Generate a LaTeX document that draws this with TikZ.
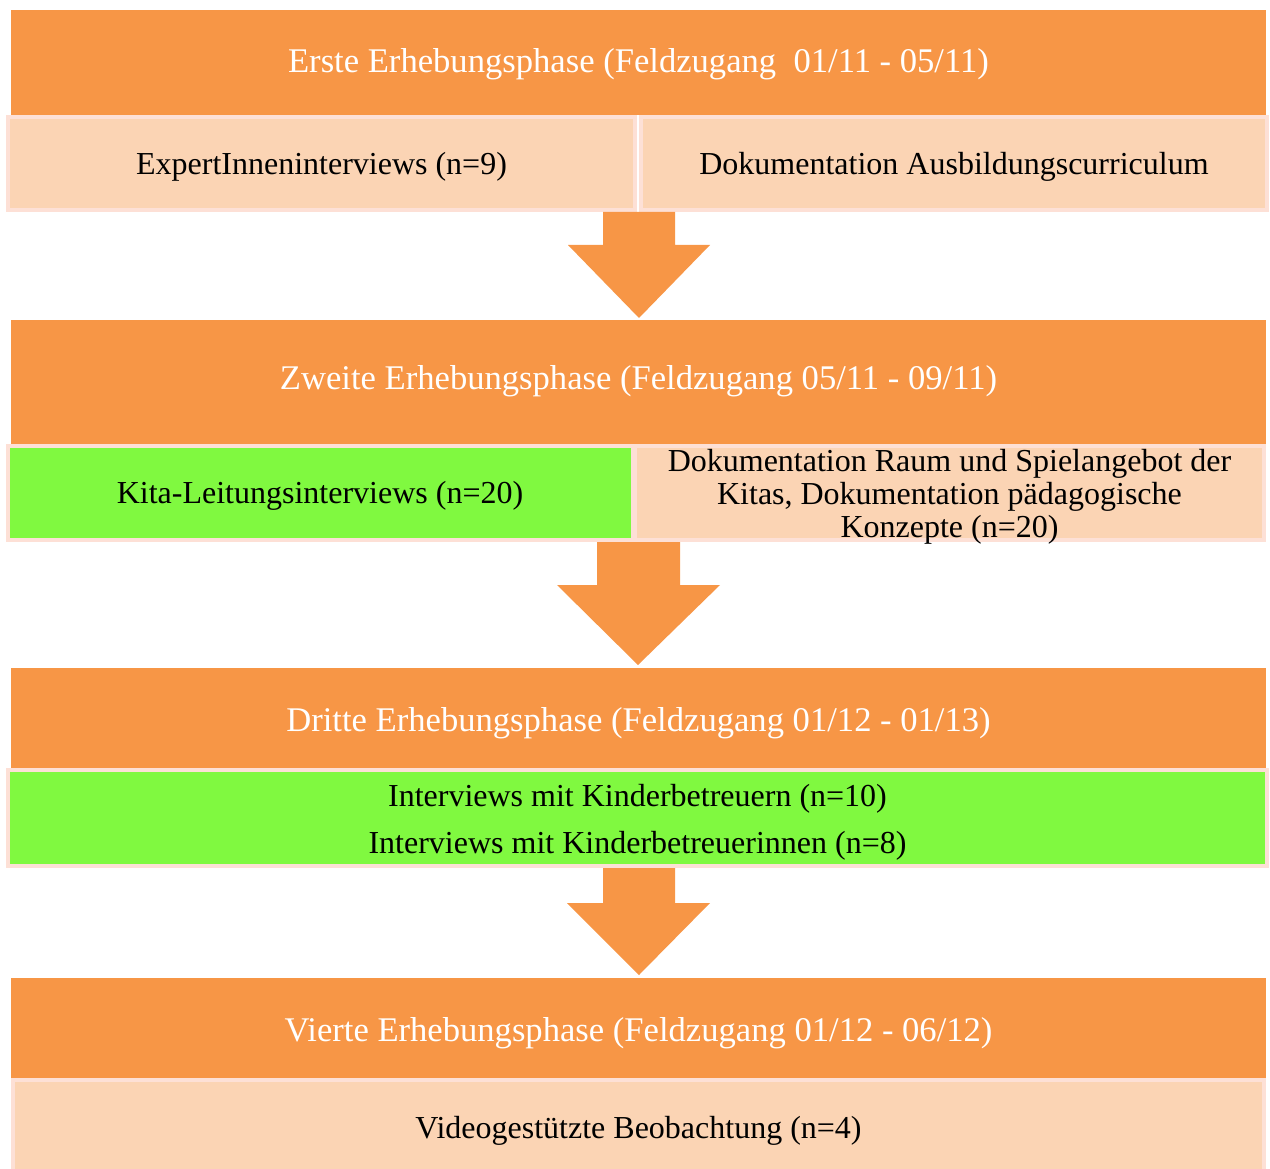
\documentclass[tikz,border=0pt]{standalone}
\usepackage{fontspec}
\setmainfont{Liberation Serif}
\definecolor{hdr}{HTML}{F79646}
\definecolor{lite}{HTML}{FBD4B4}
\definecolor{edge}{HTML}{FDE0D6}
\definecolor{grn}{HTML}{80F940}
\begin{document}
\begin{tikzpicture}[x=1pt,y=-1pt,
  every node/.style={inner sep=0pt,outer sep=0pt},
  body/.style={font=\fontsize{32}{33}\selectfont,align=center},
  hdrtext/.style={font=\fontsize{34.6}{36}\selectfont,text=white},
  header/.style={fill=hdr,minimum width=1255pt},
  cell/.style={fill=lite,draw=edge,line width=4pt},
  gcell/.style={fill=grn,draw=edge,line width=4pt},
  blockarrow/.style={fill=hdr}]
\useasboundingbox (0,0) rectangle (1270,1169);
\clip (0,0) rectangle (1270,1169);
% phase 1
\node[header,minimum height=105pt] (h1) at (638.5,62.5) {};
\node[hdrtext] (t1) at ([yshift=-2pt]h1.center) {Erste Erhebungsphase (Feldzugang~~01/11 - 05/11)};
\node[cell,minimum width=627pt,minimum height=93pt] (a1) at (321.5,163.5) {};
\node[body] (ta1) at ([yshift=-3pt]a1.center) {ExpertInneninterviews (n=9)};
\node[cell,minimum width=626pt,minimum height=93pt] (b1) at (954,163.5) {};
\node[body] (tb1) at ([yshift=-3pt]b1.center) {Dokumentation Ausbildungscurriculum};
\path[blockarrow] (603,212) -- (675,212) -- (675,245) -- (710,245) -- (639,318) -- (568,245) -- (603,245) -- cycle;
% phase 2
\node[header,minimum height=124pt] (h2) at (638.5,382) {};
\node[hdrtext] (t2) at ([yshift=1pt]h2.center) {Zweite Erhebungsphase (Feldzugang 05/11 - 09/11)};
\node[gcell,minimum width=625pt,minimum height=94pt] (a2) at (320,493) {};
\node[body] (ta2) at ([yshift=-3pt]a2.center) {Kita-Leitungsinterviews (n=20)};
\node[cell,minimum width=629pt,minimum height=94pt] (b2) at (949.5,493) {};
\node[body] (tb2) at ([yshift=-4pt]b2.center) {Dokumentation Raum und Spielangebot der\\Kitas, Dokumentation pädagogische\\Konzepte (n=20)};
\path[blockarrow] (597,542) -- (680,542) -- (680,585) -- (720,585) -- (638,665) -- (557,585) -- (597,585) -- cycle;
% phase 3
\node[header,minimum height=100pt] (h3) at (638.5,718) {};
\node[hdrtext] (t3) at ([yshift=-5pt]h3.center) {Dritte Erhebungsphase (Feldzugang 01/12 - 01/13)};
\node[gcell,minimum width=1259pt,minimum height=96pt] (a3) at (637.5,818) {};
\node[body,font=\fontsize{32}{47}\selectfont] (ta3) at ([yshift=-4pt]a3.center) {Interviews mit Kinderbetreuern (n=10)\\Interviews mit Kinderbetreuerinnen (n=8)};
\path[blockarrow] (603,868) -- (675,868) -- (675,903) -- (710,903) -- (639,975) -- (567,903) -- (603,903) -- cycle;
% phase 4
\node[header,minimum height=100pt] (h4) at (638.5,1028) {};
\node[hdrtext] (t4) at ([yshift=-5pt]h4.center) {Vierte Erhebungsphase (Feldzugang 01/12 - 06/12)};
\node[cell,minimum width=1251pt,minimum height=96pt] (a4) at (638.5,1128) {};
\node[body] (ta4) at ([yshift=-3pt]a4.center) {Videogestützte Beobachtung (n=4)};
\end{tikzpicture}
\end{document}
